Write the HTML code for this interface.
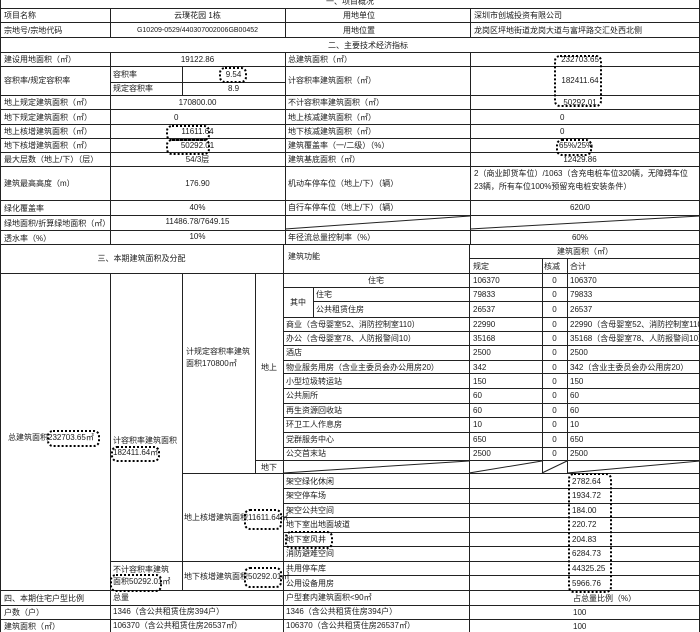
<!DOCTYPE html>
<html><head><meta charset="utf-8"><style>
body{margin:0;background:#fff;}
#c{position:relative;width:700px;height:632px;overflow:hidden;background:#fff;font-family:"Liberation Sans","Noto Sans CJK SC",sans-serif;font-size:8px;color:#1a1a1a;}
.h{position:absolute;height:1px;background:#222;}
.v{position:absolute;width:1px;background:#222;}
.t{position:absolute;white-space:nowrap;line-height:14px;margin-top:1px;}
.c{text-align:center;}
.cl{position:absolute;border:2px dotted #000;border-radius:6px;}
svg{position:absolute;left:0;top:0;}
</style></head><body><div id="c">
<div class="v" style="left:0;top:0;height:632px"></div>
<div class="v" style="left:699px;top:0;height:632px"></div>
<div class="h" style="left:0;width:700px;top:8px"></div>
<div class="h" style="left:0;width:700px;top:22px"></div>
<div class="h" style="left:0;width:700px;top:37px"></div>
<div class="h" style="left:0;width:700px;top:52px"></div>
<div class="h" style="left:0;width:700px;top:66px"></div>
<div class="h" style="left:110px;width:175px;top:82px"></div>
<div class="h" style="left:0;width:700px;top:95px"></div>
<div class="h" style="left:0;width:700px;top:109px"></div>
<div class="h" style="left:0;width:700px;top:124px"></div>
<div class="h" style="left:0;width:700px;top:138px"></div>
<div class="h" style="left:0;width:700px;top:152px"></div>
<div class="h" style="left:0;width:700px;top:166px"></div>
<div class="h" style="left:0;width:700px;top:200px"></div>
<div class="h" style="left:0;width:700px;top:215px"></div>
<div class="h" style="left:0;width:700px;top:230px"></div>
<div class="h" style="left:0;width:700px;top:244px"></div>
<div class="v" style="left:110px;top:8px;height:29px"></div>
<div class="v" style="left:110px;top:52px;height:192px"></div>
<div class="v" style="left:285px;top:8px;height:29px"></div>
<div class="v" style="left:285px;top:52px;height:192px"></div>
<div class="v" style="left:470px;top:8px;height:29px"></div>
<div class="v" style="left:470px;top:52px;height:192px"></div>
<div class="v" style="left:182px;top:66px;height:29px"></div>
<div class="h" style="left:470px;width:230px;top:258px"></div>
<div class="h" style="left:0;width:700px;top:273px"></div>
<div class="h" style="left:283px;width:417px;top:287px"></div>
<div class="h" style="left:313px;width:387px;top:301px"></div>
<div class="h" style="left:283px;width:417px;top:317px"></div>
<div class="h" style="left:283px;width:417px;top:331px"></div>
<div class="h" style="left:283px;width:417px;top:345px"></div>
<div class="h" style="left:283px;width:417px;top:360px"></div>
<div class="h" style="left:283px;width:417px;top:373px"></div>
<div class="h" style="left:283px;width:417px;top:388px"></div>
<div class="h" style="left:283px;width:417px;top:403px"></div>
<div class="h" style="left:283px;width:417px;top:417px"></div>
<div class="h" style="left:283px;width:417px;top:432px"></div>
<div class="h" style="left:283px;width:417px;top:447px"></div>
<div class="h" style="left:255px;width:445px;top:460px"></div>
<div class="h" style="left:182px;width:518px;top:473px"></div>
<div class="h" style="left:284px;width:416px;top:488px"></div>
<div class="h" style="left:284px;width:416px;top:503px"></div>
<div class="h" style="left:284px;width:416px;top:517px"></div>
<div class="h" style="left:284px;width:416px;top:532px"></div>
<div class="h" style="left:284px;width:416px;top:546px"></div>
<div class="h" style="left:110px;width:590px;top:561px"></div>
<div class="h" style="left:284px;width:416px;top:575px"></div>
<div class="h" style="left:0;width:700px;top:590px"></div>
<div class="h" style="left:0;width:700px;top:605px"></div>
<div class="h" style="left:0;width:700px;top:619px"></div>
<div class="v" style="left:110px;top:273px;height:359px"></div>
<div class="v" style="left:182px;top:273px;height:317px"></div>
<div class="v" style="left:255px;top:273px;height:200px"></div>
<div class="v" style="left:283px;top:244px;height:388px"></div>
<div class="v" style="left:313px;top:287px;height:30px"></div>
<div class="v" style="left:469px;top:244px;height:388px"></div>
<div class="v" style="left:542px;top:258px;height:215px"></div>
<div class="v" style="left:567px;top:258px;height:215px"></div>
<svg width="700" height="632"><g stroke="#222" stroke-width="1">
<line x1="285" y1="229" x2="470" y2="216"/><line x1="470" y1="229" x2="700" y2="216"/>
<line x1="283" y1="473" x2="469" y2="461"/><line x1="469" y1="473" x2="542" y2="461"/>
<line x1="542" y1="473" x2="567" y2="461"/><line x1="567" y1="473" x2="700" y2="461"/>
</g></svg>

<div class="t c" style="left:0;width:700px;top:-6px">一、项目概况</div>
<div class="t" style="left:4px;top:8px">项目名称</div>
<div class="t c" style="left:110px;width:175px;top:8px">云璞花园 1栋</div>
<div class="t" style="left:343px;top:8px">用地单位</div>
<div class="t" style="left:474px;top:8px">深圳市创城投资有限公司</div>
<div class="t" style="left:4px;top:23px">宗地号/宗地代码</div>
<div class="t c" style="left:110px;width:175px;top:23px;font-size:7px">G10209-0529/440307002006GB00452</div>
<div class="t" style="left:343px;top:23px">用地位置</div>
<div class="t" style="left:474px;top:23px">龙岗区坪地街道龙岗大道与富坪路交汇处西北侧</div>
<div class="t" style="left:328px;top:38px">二、主要技术经济指标</div>

<div class="t" style="left:4px;top:52px">建设用地面积（㎡）</div>
<div class="t c" style="left:110px;width:175px;top:52px">19122.86</div>
<div class="t" style="left:288px;top:52px">总建筑面积（㎡）</div>
<div class="t c" style="left:470px;width:220px;top:52px">232703.65</div>

<div class="t" style="left:4px;top:73px">容积率/规定容积率</div>
<div class="t" style="left:113px;top:67px">容积率</div>
<div class="t c" style="left:182px;width:103px;top:67px">9.54</div>
<div class="t" style="left:113px;top:81px">规定容积率</div>
<div class="t c" style="left:182px;width:103px;top:81px">8.9</div>
<div class="t" style="left:288px;top:73px">计容积率建筑面积（㎡）</div>
<div class="t c" style="left:470px;width:220px;top:73px">182411.64</div>

<div class="t" style="left:4px;top:95px">地上规定建筑面积（㎡）</div>
<div class="t c" style="left:110px;width:175px;top:95px">170800.00</div>
<div class="t" style="left:288px;top:95px">不计容积率建筑面积（㎡）</div>
<div class="t c" style="left:470px;width:220px;top:95px">50292.01</div>

<div class="t" style="left:4px;top:110px">地下规定建筑面积（㎡）</div>
<div class="t" style="left:174px;top:110px">0</div>
<div class="t" style="left:288px;top:110px">地上核减建筑面积（㎡）</div>
<div class="t" style="left:560px;top:110px">0</div>

<div class="t" style="left:4px;top:124px">地上核增建筑面积（㎡）</div>
<div class="t c" style="left:110px;width:175px;top:124px">11611.64</div>
<div class="t" style="left:288px;top:124px">地下核减建筑面积（㎡）</div>
<div class="t" style="left:560px;top:124px">0</div>

<div class="t" style="left:4px;top:138px">地下核增建筑面积（㎡）</div>
<div class="t c" style="left:110px;width:175px;top:138px">50292.01</div>
<div class="t" style="left:288px;top:138px">建筑覆盖率（一/二级）（%）</div>
<div class="t" style="left:559px;top:138px">65%/25%</div>

<div class="t" style="left:4px;top:152px">最大层数（地上/下）（层）</div>
<div class="t c" style="left:110px;width:175px;top:152px">54/3层</div>
<div class="t" style="left:288px;top:152px">建筑基底面积（㎡）</div>
<div class="t c" style="left:470px;width:220px;top:152px">12429.86</div>

<div class="t" style="left:4px;top:176px">建筑最高高度（m）</div>
<div class="t c" style="left:110px;width:175px;top:176px">176.90</div>
<div class="t" style="left:288px;top:176px">机动车停车位（地上/下）（辆）</div>
<div class="t" style="left:474px;top:166px;line-height:13px">2（商业卸货车位）/1063（含充电桩车位320辆，无障碍车位<br>23辆，所有车位100%预留充电桩安装条件）</div>

<div class="t" style="left:4px;top:201px">绿化覆盖率</div>
<div class="t c" style="left:110px;width:175px;top:200px">40%</div>
<div class="t" style="left:288px;top:200px">自行车停车位（地上/下）（辆）</div>
<div class="t c" style="left:470px;width:220px;top:200px">620/0</div>

<div class="t" style="left:4px;top:216px">绿地面积/折算绿地面积（㎡）</div>
<div class="t c" style="left:110px;width:175px;top:214px">11486.78/7649.15</div>

<div class="t" style="left:4px;top:231px">透水率（%）</div>
<div class="t c" style="left:110px;width:175px;top:229px">10%</div>
<div class="t" style="left:288px;top:230px">年径流总量控制率（%）</div>
<div class="t c" style="left:470px;width:220px;top:230px">60%</div>

<div class="t c" style="left:0;width:283px;top:251px">三、本期建筑面积及分配</div>
<div class="t" style="left:288px;top:249px">建筑功能</div>
<div class="t c" style="left:470px;width:230px;top:244px">建筑面积（㎡）</div>
<div class="t" style="left:473px;top:259px">规定</div>
<div class="t" style="left:544px;top:259px">核减</div>
<div class="t" style="left:570px;top:259px">合计</div>

<div class="t c" style="left:283px;width:186px;top:273px">住宅</div>
<div class="t c" style="left:283px;width:30px;top:295px">其中</div>
<div class="t" style="left:316px;top:287px">住宅</div>
<div class="t" style="left:316px;top:302px">公共租赁住房</div>
<div class="t" style="left:286px;top:317px">商业（含母婴室52、消防控制室110）</div>
<div class="t" style="left:286px;top:331px">办公（含母婴室78、人防报警间10）</div>
<div class="t" style="left:286px;top:345px">酒店</div>
<div class="t" style="left:286px;top:360px">物业服务用房（含业主委员会办公用房20）</div>
<div class="t" style="left:286px;top:374px">小型垃圾转运站</div>
<div class="t" style="left:286px;top:388px">公共厕所</div>
<div class="t" style="left:286px;top:403px">再生资源回收站</div>
<div class="t" style="left:286px;top:417px">环卫工人作息房</div>
<div class="t" style="left:286px;top:432px">党群服务中心</div>
<div class="t" style="left:286px;top:446px">公交首末站</div>

<div class="t" style="left:473px;top:273px">106370</div><div class="t c" style="left:542px;width:25px;top:273px">0</div><div class="t" style="left:570px;top:273px">106370</div>
<div class="t" style="left:473px;top:287px">79833</div><div class="t c" style="left:542px;width:25px;top:287px">0</div><div class="t" style="left:570px;top:287px">79833</div>
<div class="t" style="left:473px;top:302px">26537</div><div class="t c" style="left:542px;width:25px;top:302px">0</div><div class="t" style="left:570px;top:302px">26537</div>
<div class="t" style="left:473px;top:317px">22990</div><div class="t c" style="left:542px;width:25px;top:317px">0</div><div class="t" style="left:570px;top:317px">22990（含母婴室52、消防控制室110）</div>
<div class="t" style="left:473px;top:331px">35168</div><div class="t c" style="left:542px;width:25px;top:331px">0</div><div class="t" style="left:570px;top:331px">35168（含母婴室78、人防报警间10）</div>
<div class="t" style="left:473px;top:345px">2500</div><div class="t c" style="left:542px;width:25px;top:345px">0</div><div class="t" style="left:570px;top:345px">2500</div>
<div class="t" style="left:473px;top:360px">342</div><div class="t c" style="left:542px;width:25px;top:360px">0</div><div class="t" style="left:570px;top:360px">342（含业主委员会办公用房20）</div>
<div class="t" style="left:473px;top:374px">150</div><div class="t c" style="left:542px;width:25px;top:374px">0</div><div class="t" style="left:570px;top:374px">150</div>
<div class="t" style="left:473px;top:388px">60</div><div class="t c" style="left:542px;width:25px;top:388px">0</div><div class="t" style="left:570px;top:388px">60</div>
<div class="t" style="left:473px;top:403px">60</div><div class="t c" style="left:542px;width:25px;top:403px">0</div><div class="t" style="left:570px;top:403px">60</div>
<div class="t" style="left:473px;top:417px">10</div><div class="t c" style="left:542px;width:25px;top:417px">0</div><div class="t" style="left:570px;top:417px">10</div>
<div class="t" style="left:473px;top:432px">650</div><div class="t c" style="left:542px;width:25px;top:432px">0</div><div class="t" style="left:570px;top:432px">650</div>
<div class="t" style="left:473px;top:446px">2500</div><div class="t c" style="left:542px;width:25px;top:446px">0</div><div class="t" style="left:570px;top:446px">2500</div>

<div class="t c" style="left:255px;width:28px;top:360px">地上</div>
<div class="t c" style="left:255px;width:28px;top:460px">地下</div>
<div class="t" style="left:186px;top:345px;line-height:12px">计规定容积率建筑<br>面积170800㎡</div>
<div class="t" style="left:113px;top:434px;line-height:12px">计容积率建筑面积<br>182411.64㎡</div>
<div class="t" style="left:8px;top:430px">总建筑面积232703.65㎡</div>

<div class="t" style="left:184px;top:510px">地上核增建筑面积11611.64㎡</div>
<div class="t" style="left:184px;top:569px">地下核增建筑面积50292.01㎡</div>
<div class="t" style="left:113px;top:563px;line-height:12px">不计容积率建筑<br>面积50292.01㎡</div>

<div class="t" style="left:286px;top:474px">架空绿化休闲</div><div class="t" style="left:572px;top:474px">2782.64</div>
<div class="t" style="left:286px;top:488px">架空停车场</div><div class="t" style="left:572px;top:488px">1934.72</div>
<div class="t" style="left:286px;top:503px">架空公共空间</div><div class="t" style="left:572px;top:503px">184.00</div>
<div class="t" style="left:286px;top:517px">地下室出地面坡道</div><div class="t" style="left:572px;top:517px">220.72</div>
<div class="t" style="left:286px;top:532px">地下室风井</div><div class="t" style="left:572px;top:532px">204.83</div>
<div class="t" style="left:286px;top:546px">消防避难空间</div><div class="t" style="left:572px;top:546px">6284.73</div>
<div class="t" style="left:286px;top:561px">共用停车库</div><div class="t" style="left:572px;top:561px">44325.25</div>
<div class="t" style="left:286px;top:576px">公用设备用房</div><div class="t" style="left:572px;top:576px">5966.76</div>

<div class="t" style="left:4px;top:591px">四、本期住宅户型比例</div>
<div class="t" style="left:113px;top:590px">总量</div>
<div class="t" style="left:286px;top:590px">户型套内建筑面积&lt;90㎡</div>
<div class="t" style="left:573px;top:591px">占总量比例（%）</div>
<div class="t" style="left:4px;top:605px">户数（户）</div>
<div class="t" style="left:113px;top:604px">1346（含公共租赁住房394户）</div>
<div class="t" style="left:286px;top:604px">1346（含公共租赁住房394户）</div>
<div class="t" style="left:573px;top:605px">100</div>
<div class="t" style="left:4px;top:619px">建筑面积（㎡）</div>
<div class="t" style="left:113px;top:618px">106370（含公共租赁住房26537㎡）</div>
<div class="t" style="left:286px;top:618px">106370（含公共租赁住房26537㎡）</div>
<div class="t" style="left:573px;top:619px">100</div>

<div class="cl" style="left:219px;top:67px;width:24px;height:12px"></div>
<div class="cl" style="left:166px;top:125px;width:40px;height:12px"></div>
<div class="cl" style="left:166px;top:139px;width:40px;height:12px"></div>
<div class="cl" style="left:554px;top:55px;width:44px;height:48px"></div>
<div class="cl" style="left:556px;top:139px;width:32px;height:13px"></div>
<div class="cl" style="left:47px;top:430px;width:49px;height:13px"></div>
<div class="cl" style="left:111px;top:446px;width:45px;height:12px"></div>
<div class="cl" style="left:244px;top:509px;width:34px;height:17px"></div>
<div class="cl" style="left:244px;top:567px;width:34px;height:17px"></div>
<div class="cl" style="left:110px;top:574px;width:48px;height:14px"></div>
<div class="cl" style="left:285px;top:531px;width:44px;height:14px"></div>
<div class="cl" style="left:568px;top:473px;width:40px;height:116px"></div>
</div></body></html>
